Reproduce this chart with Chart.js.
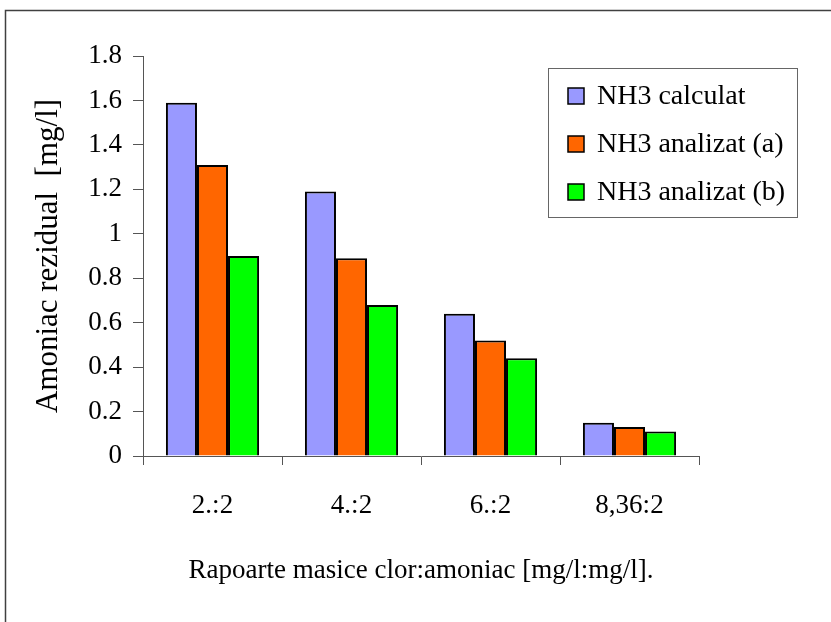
<!DOCTYPE html>
<html>
<head>
<meta charset="utf-8">
<script src="https://cdn.jsdelivr.net/npm/chart.js@4/dist/chart.umd.min.js"></script>
<style>
  html, body { margin: 0; padding: 0; background: #fff; }
  canvas { display: block; }
</style>
</head>
<body>
<canvas id="c" width="831" height="622"></canvas>
<script>
// ---- data ----
const categories = ['2.:2', '4.:2', '6.:2', '8,36:2'];
const seriesNames = ['NH3 calculat', 'NH3 analizat (a)', 'NH3 analizat (b)'];
const nh3Calculat = [1.59, 1.19, 0.64, 0.15];
const nh3AnalizatA = [1.31, 0.89, 0.52, 0.13];
const nh3AnalizatB = [0.90, 0.68, 0.44, 0.11];
const yTickValues = [0, 0.2, 0.4, 0.6, 0.8, 1, 1.2, 1.4, 1.6, 1.8];
const yTickLabels = ['0', '0.2', '0.4', '0.6', '0.8', '1', '1.2', '1.4', '1.6', '1.8'];
const yMin = 0, yMax = 1.8, yStep = 0.2;
const yTitle = 'Amoniac rezidual  [mg/l]';
const xTitle = 'Rapoarte masice clor:amoniac [mg/l:mg/l].';

const colors = ['#9999FF', '#FF6600', '#00FF00'];
const FONT = '"Liberation Serif", "Times New Roman", serif';
const AXIS = '#555555';

const framePlugin = {
  id: 'frameAndLegend',
  afterDraw(chart) {
    const ctx = chart.ctx;
    ctx.save();
    // outer frame (top and left edges)
    ctx.strokeStyle = '#404040';
    ctx.lineWidth = 1.5;
    ctx.beginPath();
    ctx.moveTo(5.5, 622);
    ctx.lineTo(5.5, 10.5);
    ctx.lineTo(831, 10.5);
    ctx.stroke();
    // legend box
    ctx.strokeStyle = '#666666';
    ctx.lineWidth = 1;
    ctx.strokeRect(548.5, 68.5, 249, 149);
    ctx.font = '28px ' + FONT;
    ctx.textBaseline = 'middle';
    ctx.textAlign = 'left';
    chart.data.datasets.forEach((ds, i) => {
      const cy = 96 + i * 48;
      ctx.fillStyle = ds.backgroundColor;
      ctx.fillRect(568, cy - 8, 16, 16);
      ctx.strokeStyle = '#000';
      ctx.lineWidth = 1.5;
      ctx.strokeRect(568, cy - 8, 16, 16);
      ctx.fillStyle = '#000';
      ctx.fillText(ds.label, 597, cy + 1);
    });
    ctx.restore();
  }
};

const datasets = [nh3Calculat, nh3AnalizatA, nh3AnalizatB].map((vals, i) => ({
  label: seriesNames[i],
  data: vals,
  backgroundColor: colors[i],
  borderColor: '#000000',
  borderWidth: 2,
  borderSkipped: 'bottom',
  categoryPercentage: 0.67,
  barPercentage: 1.0
}));

function yLabel(v) {
  for (let i = 0; i < yTickValues.length; i++) {
    if (Math.abs(yTickValues[i] - v) < 1e-6) return yTickLabels[i];
  }
  return '';
}

new Chart(document.getElementById('c'), {
  type: 'bar',
  data: { labels: categories, datasets },
  options: {
    responsive: false,
    animation: false,
    devicePixelRatio: 1,
    layout: { padding: { top: 56, right: 132, left: 0, bottom: 0 } },
    plugins: { legend: { display: false }, tooltip: { enabled: false } },
    scales: {
      x: {
        afterFit(scale) { scale.height = 166; },
        grid: { display: true, drawOnChartArea: false, drawTicks: true, tickLength: 9, color: AXIS, offset: true },
        border: { display: true, color: AXIS, width: 1 },
        ticks: { color: '#000', font: { family: FONT, size: 27 }, padding: 25, maxRotation: 0 },
        title: { display: true, text: xTitle, color: '#000', font: { family: FONT, size: 27 }, padding: { top: 0, bottom: 35 } }
      },
      y: {
        min: yMin, max: yMax,
        afterFit(scale) { scale.width = 143; },
        grid: { display: true, drawOnChartArea: false, drawTicks: true, tickLength: 10, color: AXIS },
        border: { display: true, color: AXIS, width: 1 },
        ticks: { stepSize: yStep, color: '#000', font: { family: FONT, size: 27 }, padding: 11, callback: (v) => yLabel(v) },
        title: { display: true, text: yTitle, color: '#000', font: { family: FONT, size: 31 }, padding: { top: 30, bottom: 0 } }
      }
    }
  },
  plugins: [framePlugin]
});
</script>
</body>
</html>
